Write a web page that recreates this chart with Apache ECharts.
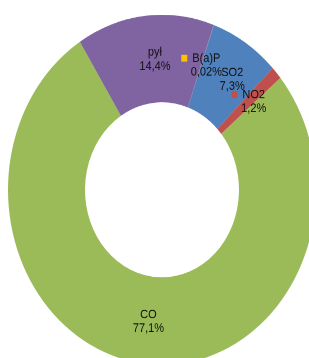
<!DOCTYPE html>
<html>
<head>
<meta charset="utf-8">
<script src="https://cdn.jsdelivr.net/npm/echarts@6/dist/echarts.min.js"></script>
<style>
  html, body { margin: 0; padding: 0; background: #fff; overflow: hidden; }
  #wrap { width: 309px; height: 358px; overflow: hidden; }
  /* the original chart is stretched vertically, so scale the whole drawing */
  #chart { width: 309px; height: 315px; transform: scaleY(1.1365); transform-origin: 0 0; }
</style>
</head>
<body>
<div id="wrap"><div id="chart"></div></div>
<script>
const categories = ['B(a)P', 'SO2', 'NO2', 'CO', 'pył'];
const shares = [0.02, 7.3, 1.2, 77.1, 14.4];
const shareLabels = ['0,02%', '7,3%', '1,2%', '77,1%', '14,4%'];
const colors = ['#FFC000', '#4F81BD', '#C0504D', '#9BBB59', '#8064A2'];
// these two get a small legend key in front of the label
const withKey = ['B(a)P', 'NO2'];

var myChart = echarts.init(document.getElementById('chart'), null, { devicePixelRatio: 2 });

const labelShift = { 'B(a)P': [-1, 2], 'SO2': [6, 2.5], 'NO2': [-2, 1.5], 'CO': [5, -1], 'pył': [6, 3] };

myChart.setOption({
  animation: false,
  series: [
    {
      type: 'pie',
      center: [162, 167],
      radius: [77, 154],
      startAngle: 70.4,
      clockwise: true,
      avoidLabelOverlap: false,
      itemStyle: { borderWidth: 0 },
      label: {
        show: true,
        position: 'inside',
        fontFamily: 'Liberation Sans',
        fontSize: 11,
        lineHeight: 12.3,
        color: '#111',
        formatter: function (p) {
          const i = p.dataIndex;
          if (withKey.indexOf(categories[i]) >= 0) {
            return '{k' + i + '|}{g|}' + categories[i] + '\n{e|}{g|}' + shareLabels[i];
          }
          return categories[i] + '\n' + shareLabels[i];
        },
        rich: Object.assign(
          {
            g: { width: 5 },
            e: { width: 6 }
          },
          ...categories.map((c, i) => ({
            ['k' + i]: { width: 6, height: 6, backgroundColor: colors[i] }
          }))
        )
      },
      labelLine: { show: false },
      labelLayout: function (p) {
        const s = labelShift[categories[p.dataIndex]] || [0, 0];
        return { dx: s[0], dy: s[1] };
      },
      data: categories.map((c, i) => ({
        name: c,
        value: shares[i],
        itemStyle: { color: colors[i] }
      }))
    }
  ]
});
</script>
</body>
</html>
